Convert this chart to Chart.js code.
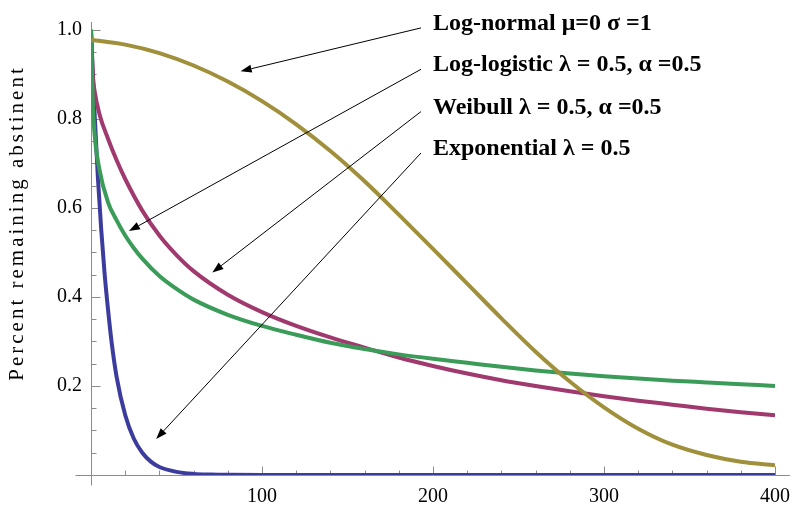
<!DOCTYPE html>
<html>
<head>
<meta charset="utf-8">
<script src="https://cdn.jsdelivr.net/npm/chart.js@4.4.1/dist/chart.umd.min.js"></script>
<style>
  html, body { margin: 0; padding: 0; background: #fff; }
</style>
</head>
<body>
<canvas id="survival-chart" width="800" height="508"></canvas>
<script>
// values
const logNormalX = [0, 20, 40, 60, 80, 100, 120, 140, 160, 180, 200, 220, 240, 260, 280, 300, 320, 340, 360, 380, 400];
const logNormalY = [0.978, 0.967, 0.948, 0.92, 0.884, 0.84, 0.788, 0.728, 0.66, 0.585, 0.508, 0.43, 0.352, 0.277, 0.21, 0.152, 0.104, 0.068, 0.045, 0.03, 0.022];

const logLogisticX = [0, 1, 2, 5, 10, 15, 20, 30, 40, 50, 60, 80, 100, 120, 140, 160, 180, 200, 220, 240, 260, 280, 300, 320, 340, 360, 380, 400];
const logLogisticY = [1.0, 0.9, 0.865, 0.81, 0.755, 0.707, 0.665, 0.594, 0.538, 0.494, 0.458, 0.405, 0.366, 0.335, 0.309, 0.286, 0.264, 0.245, 0.228, 0.213, 0.2, 0.188, 0.177, 0.167, 0.158, 0.149, 0.141, 0.134];

const weibullX = [0, 1, 2, 5, 10, 15, 20, 25, 30, 40, 50, 60, 80, 100, 120, 140, 160, 180, 200, 220, 240, 260, 280, 300, 320, 340, 360, 380, 400];
const weibullY = [1.0, 0.84, 0.77, 0.685, 0.612, 0.572, 0.538, 0.51, 0.486, 0.447, 0.418, 0.394, 0.36, 0.335, 0.315, 0.297, 0.283, 0.271, 0.261, 0.252, 0.243, 0.235, 0.228, 0.222, 0.217, 0.212, 0.208, 0.204, 0.2];

const exponentialX = [0, 2, 4, 6, 8, 10, 12, 15, 20, 25, 30, 35, 40, 50, 60, 70, 80, 100, 150, 200, 250, 300, 350, 400];
const exponentialY = [1.0, 0.82, 0.67, 0.55, 0.45, 0.37, 0.3, 0.22, 0.135, 0.082, 0.05, 0.03, 0.018, 0.007, 0.0025, 0.001, 0.0003, 0, 0, 0, 0, 0, 0, 0];

const xTickLabels = [100, 200, 300, 400];
const yTickLabels = [0.2, 0.4, 0.6, 0.8, 1.0];

const seriesNames = ["Log-normal μ=0 σ =1", "Log-logistic λ = 0.5, α =0.5", "Weibull λ = 0.5, α =0.5", "Exponential λ = 0.5"];

// annotation anchors, in data units
const noteX = 200;
const noteY = [1.0, 0.907, 0.812, 0.719];
const arrowTipX = [87.5, 22.2, 71, 38.1];
const arrowTipY = [0.907, 0.548, 0.455, 0.081];

function pts(xs, ys) {
  return xs.map((v, i) => ({ x: v, y: ys[i] }));
}

function line(label, xs, ys, color, order) {
  return {
    label: label,
    data: pts(xs, ys),
    borderColor: color,
    backgroundColor: color,
    borderWidth: 4,
    pointRadius: 0,
    fill: false,
    cubicInterpolationMode: "monotone",
    order: order
  };
}

const serif = "'Liberation Serif', 'Times New Roman', serif";

// Mathematica style axes: lines crossing at the origin, ticks pointing inward
const drawAxes = {
  id: "drawAxes",
  beforeDatasetsDraw(chart) {
    const ctx = chart.ctx;
    const xs = chart.scales.x, ys = chart.scales.y;
    const x0 = Math.round(xs.getPixelForValue(0)) + 0.5;
    const y0 = Math.round(ys.getPixelForValue(0)) + 0.5;
    ctx.save();
    ctx.strokeStyle = "#8c8c8c";
    ctx.lineWidth = 1;
    ctx.beginPath();
    ctx.moveTo(x0 - 16, y0);
    ctx.lineTo(xs.right + 15, y0);
    ctx.moveTo(x0, ys.top + 1);
    ctx.lineTo(x0, y0 + 10);
    for (let v = 20; v <= 400; v += 20) {
      const px = Math.round(xs.getPixelForValue(v)) + 0.5;
      const len = v % 100 === 0 ? 9 : 5;
      ctx.moveTo(px, y0);
      ctx.lineTo(px, y0 - len);
    }
    for (let k = 1; k <= 20; k++) {
      const py = Math.round(ys.getPixelForValue(k * 0.05)) + 0.5;
      const len = k % 4 === 0 ? 9 : 5;
      ctx.moveTo(x0, py);
      ctx.lineTo(x0 + len, py);
    }
    ctx.stroke();

    // axis title with wide letter spacing
    ctx.fillStyle = "#000";
    ctx.font = "21px " + serif;
    ctx.letterSpacing = "3px";
    ctx.textAlign = "center";
    ctx.textBaseline = "alphabetic";
    ctx.translate(23, (ys.top + ys.bottom) / 2 - 25);
    ctx.rotate(-Math.PI / 2);
    ctx.fillText("Percent remaining abstinent", 0, 0);
    ctx.restore();
  }
};

const drawNotes = {
  id: "drawNotes",
  afterDatasetsDraw(chart) {
    const ctx = chart.ctx;
    const xs = chart.scales.x, ys = chart.scales.y;
    ctx.save();
    ctx.fillStyle = "#000";
    ctx.strokeStyle = "#000";
    ctx.lineWidth = 1;
    ctx.font = "bold 24px " + serif;
    ctx.textAlign = "left";
    ctx.textBaseline = "alphabetic";
    seriesNames.forEach((name, i) => {
      const tx = xs.getPixelForValue(noteX);
      const ty = ys.getPixelForValue(noteY[i]);
      ctx.fillText(name, tx, ty);
      const sx = tx - 12, sy = ty - 2;
      const ex = xs.getPixelForValue(arrowTipX[i]);
      const ey = ys.getPixelForValue(arrowTipY[i]);
      const ang = Math.atan2(ey - sy, ex - sx);
      const head = 11, half = 4;
      const bx = ex - head * Math.cos(ang), by = ey - head * Math.sin(ang);
      ctx.beginPath();
      ctx.moveTo(sx, sy);
      ctx.lineTo(bx, by);
      ctx.stroke();
      ctx.beginPath();
      ctx.moveTo(ex, ey);
      ctx.lineTo(bx + half * Math.sin(ang), by - half * Math.cos(ang));
      ctx.lineTo(bx - half * Math.sin(ang), by + half * Math.cos(ang));
      ctx.closePath();
      ctx.fill();
    });
    ctx.restore();
  }
};

const ctx = document.getElementById("survival-chart");
const chart = new Chart(ctx, {
  type: "line",
  data: {
    datasets: [
      line(seriesNames[3], exponentialX, exponentialY, "#3c3c9e", 4),
      line(seriesNames[1], logLogisticX, logLogisticY, "#a03a6e", 3),
      line(seriesNames[2], weibullX, weibullY, "#3a9c58", 2),
      line(seriesNames[0], logNormalX, logNormalY, "#a0903c", 1)
    ]
  },
  options: {
    responsive: false,
    animation: false,
    layout: { padding: { top: 14, right: 20, left: 0, bottom: 0 } },
    plugins: {
      legend: { display: false },
      tooltip: { enabled: false }
    },
    scales: {
      x: {
        type: "linear",
        min: 0,
        max: 400,
        grid: { display: false, drawTicks: false },
        border: { display: false },
        afterBuildTicks: s => { s.ticks = xTickLabels.map(v => ({ value: v })); },
        afterFit: s => { s.height = 33; },
        ticks: {
          color: "#000",
          font: { family: serif, size: 20 },
          padding: 10,
          maxRotation: 0,
          autoSkip: false,
          callback: v => String(v)
        }
      },
      y: {
        type: "linear",
        min: 0,
        max: 1.02,
        grid: { display: false, drawTicks: false },
        border: { display: false },
        afterBuildTicks: s => { s.ticks = yTickLabels.map(v => ({ value: v })); },
        afterFit: s => { s.width = 91; },
        ticks: {
          color: "#000",
          font: { family: serif, size: 20 },
          padding: 9,
          autoSkip: false,
          callback: v => v.toFixed(1)
        }
      }
    }
  },
  plugins: [drawAxes, drawNotes]
});
</script>
</body>
</html>
